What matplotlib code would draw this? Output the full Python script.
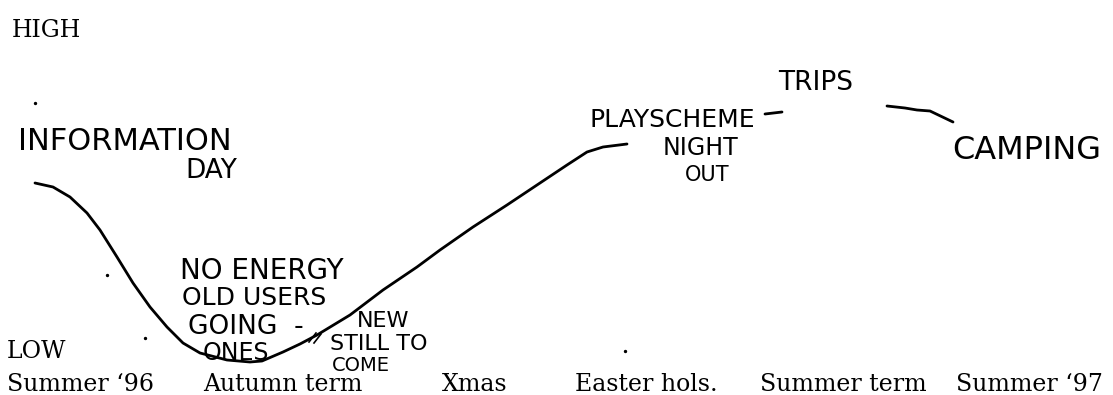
import matplotlib
matplotlib.use("Agg")
import matplotlib.pyplot as plt

# hand drawn energy curve (x across the year, y down the page)
curve_x = [35, 53, 70, 87, 100, 117, 133, 150, 167, 183, 200, 227, 250, 262, 283,
           300, 317, 350, 383, 417, 440, 473, 507, 540, 567, 587, 603, 627]
curve_y = [183, 187, 197, 213, 230, 257, 283, 307, 327, 343, 353, 360, 362, 361, 352,
           344, 335, 315, 290, 267, 250, 227, 205, 183, 165, 152, 147, 144]

# short pen strokes
dash_x = [765, 782]
dash_y = [114, 112]
link_x = [887, 905, 917, 930, 953]
link_y = [106, 108, 110, 111, 122]
tick1_x = [309, 316]
tick1_y = [342, 333]
tick2_x = [314, 321]
tick2_y = [343, 334]

specks_x = [35, 107, 145, 625]
specks_y = [103, 275, 338, 351]

# typed labels
period_labels = ["Summer \u201896", "Autumn term", "Xmas", "Easter hols.", "Summer term", "Summer \u201897"]
period_x = [7, 203, 442, 575, 760, 956]
level_labels = ["HIGH", "LOW"]
level_x = [12, 7]
level_y = [37, 358]

# handwritten notes
notes = ["INFORMATION", "DAY", "NO ENERGY", "OLD USERS", "GOING  -", "ONES",
         "NEW", "STILL TO", "COME", "PLAYSCHEME", "NIGHT", "OUT", "TRIPS", "CAMPING"]
notes_x = [18, 185, 180, 182, 188, 203, 357, 330, 332, 590, 663, 685, 778, 952]
notes_y = [127, 158, 257, 286, 314, 341, 311, 334, 356, 108, 136, 165, 70, 135]
notes_size = [22, 19, 20, 18, 19, 17, 16, 16, 14, 18, 17, 15, 19, 23]

fig = plt.figure(figsize=(11.13, 3.95), dpi=100)
ax = fig.add_axes([0, 0, 1, 1])
ax.set_xlim(0, 1113)
ax.set_ylim(395, 0)
ax.axis('off')

ink = dict(color='black', lw=2.0, solid_capstyle='round', solid_joinstyle='round')
ax.plot(curve_x, curve_y, **ink)
ax.plot(dash_x, dash_y, **ink)
ax.plot(link_x, link_y, **ink)
ax.plot(tick1_x, tick1_y, color='black', lw=1.2)
ax.plot(tick2_x, tick2_y, color='black', lw=1.2)
ax.scatter(specks_x, specks_y, s=2, color='black')

for label, x, y in zip(level_labels, level_x, level_y):
    ax.text(x, y, label, family='DejaVu Serif', fontsize=17, ha='left', va='baseline')
for label, x in zip(period_labels, period_x):
    ax.text(x, 391, label, family='DejaVu Serif', fontsize=17, ha='left', va='baseline')

for t, x, y, s in zip(notes, notes_x, notes_y, notes_size):
    ax.text(x, y, t, family='DejaVu Sans', fontsize=s, ha='left', va='top')

plt.savefig("out.png", dpi=100)
